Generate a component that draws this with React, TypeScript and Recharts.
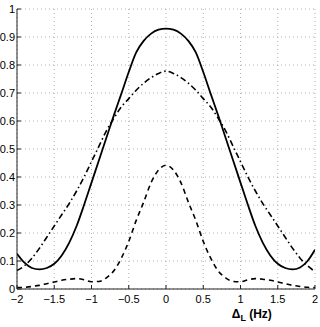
import React from 'react';
import { LineChart, Line, XAxis, YAxis, CartesianGrid } from 'recharts';

const xValues = [
  -2.0, -1.9, -1.8, -1.7, -1.6, -1.5, -1.4, -1.3, -1.2, -1.1, -1.0,
  -0.9, -0.8, -0.7, -0.6, -0.5, -0.4, -0.3, -0.2, -0.1, 0.0,
  0.1, 0.2, 0.3, 0.4, 0.5, 0.6, 0.7, 0.8, 0.9, 1.0,
  1.1, 1.2, 1.3, 1.4, 1.5, 1.6, 1.7, 1.8, 1.9, 2.0,
];

const solidValues = [
  0.126, 0.094, 0.075, 0.07, 0.075, 0.09, 0.12, 0.165, 0.225, 0.3, 0.38,
  0.46, 0.54, 0.62, 0.697, 0.775, 0.845, 0.886, 0.912, 0.926, 0.93,
  0.926, 0.912, 0.886, 0.845, 0.775, 0.697, 0.62, 0.54, 0.46, 0.38,
  0.3, 0.225, 0.165, 0.12, 0.09, 0.075, 0.07, 0.077, 0.1, 0.14,
];

const dashDotValues = [
  0.066, 0.083, 0.11, 0.145, 0.185, 0.225, 0.265, 0.305, 0.35, 0.4, 0.455,
  0.51, 0.565, 0.61, 0.65, 0.68, 0.71, 0.735, 0.755, 0.77, 0.778,
  0.77, 0.755, 0.735, 0.71, 0.68, 0.65, 0.61, 0.565, 0.51, 0.455,
  0.4, 0.35, 0.305, 0.265, 0.225, 0.185, 0.145, 0.11, 0.083, 0.062,
];

const dashedValues = [
  0.005, 0.006, 0.009, 0.013, 0.019, 0.025, 0.031, 0.035, 0.037, 0.033, 0.026,
  0.027, 0.04, 0.065, 0.11, 0.17, 0.245, 0.31, 0.38, 0.425, 0.442,
  0.425, 0.38, 0.31, 0.245, 0.17, 0.11, 0.065, 0.04, 0.027, 0.026,
  0.033, 0.037, 0.035, 0.031, 0.025, 0.019, 0.013, 0.009, 0.006, 0.005,
];

const xTicks = [-2, -1.5, -1, -0.5, 0, 0.5, 1, 1.5, 2];
const yTicks = [0, 0.1, 0.2, 0.3, 0.4, 0.5, 0.6, 0.7, 0.8, 0.9, 1];

const data = xValues.map((x, i) => ({
  x,
  solid: solidValues[i],
  dashdot: dashDotValues[i],
  dashed: dashedValues[i],
}));

const fmtX = (v: number) => (v < 0 ? '\u2212' + String(Math.abs(v)) : String(v));
const fmtY = (v: number) => String(v);

const FONT = '"Liberation Sans", Arial, Helvetica, sans-serif';
const tickStyle = { fontSize: 11, fill: '#000', fontFamily: FONT };

const XLabel = (props: any) => {
  const vb = props.viewBox || { x: 0, y: 0, width: 0, height: 0 };
  const cx = vb.x + vb.width * 0.788;
  const cy = vb.y + 29;
  return (
    <text x={cx} y={cy} textAnchor="middle" fontFamily={FONT} fontSize={12} fontWeight="bold" fill="#000">
      <tspan>Δ</tspan>
      <tspan fontSize={9} dy={3}>L</tspan>
      <tspan dy={-3}> (Hz)</tspan>
    </text>
  );
};

export default function App() {
  return (
    <div style={{ position: 'absolute', left: 0, top: 0, width: 320, height: 327, background: '#fff' }}>
      <LineChart width={320} height={327} data={data} margin={{ top: 9, right: 5, bottom: 0, left: 0 }}>
        <CartesianGrid stroke="#b0b0b0" strokeDasharray="1 3" strokeWidth={1} />
        <XAxis
          dataKey="x"
          type="number"
          domain={[-2, 2]}
          ticks={xTicks}
          tickFormatter={fmtX}
          height={38}
          tickSize={-4}
          tickMargin={10}
          stroke="#222"
          tick={tickStyle}
          interval={0}
          allowDataOverflow
          label={<XLabel />}
        />
        <XAxis
          xAxisId="top"
          orientation="top"
          dataKey="x"
          type="number"
          domain={[-2, 2]}
          ticks={xTicks}
          height={0}
          tickSize={-4}
          stroke="#222"
          tick={false}
          allowDataOverflow
        />
        <YAxis
          type="number"
          domain={[0, 1]}
          ticks={yTicks}
          tickFormatter={fmtY}
          width={17}
          tickSize={-4}
          tickMargin={6}
          stroke="#222"
          tick={tickStyle}
          interval={0}
          allowDataOverflow
        />
        <YAxis
          yAxisId="right"
          orientation="right"
          type="number"
          domain={[0, 1]}
          ticks={yTicks}
          width={0}
          tickSize={-4}
          stroke="#222"
          tick={false}
          allowDataOverflow
        />
        <Line type="monotone" dataKey="solid" stroke="#000" strokeWidth={1.8} dot={false} isAnimationActive={false} />
        <Line type="monotone" dataKey="dashdot" stroke="#000" strokeWidth={1.6} strokeDasharray="6 3 1.5 3" dot={false} isAnimationActive={false} />
        <Line type="monotone" dataKey="dashed" stroke="#000" strokeWidth={1.6} strokeDasharray="5 4" dot={false} isAnimationActive={false} />
      </LineChart>
    </div>
  );
}
